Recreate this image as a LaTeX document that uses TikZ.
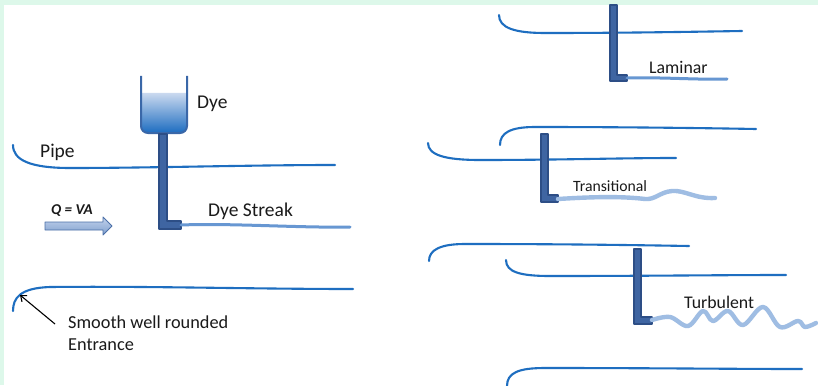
\documentclass[tikz,border=0pt]{standalone}
\usepackage{fontspec}
\setmainfont{Carlito}
\usetikzlibrary{arrows.meta}
\definecolor{mint}{HTML}{DDF8EA}
\definecolor{pipeblue}{HTML}{1E6EC0}
\definecolor{tubefill}{HTML}{3F65A2}
\definecolor{tubeedge}{HTML}{2D4E86}
\definecolor{streak}{HTML}{6797D2}
\definecolor{streaklight}{HTML}{9FBDE3}
\definecolor{tankedge}{HTML}{3A67A8}
\definecolor{liquidtop}{HTML}{CAD9EF}
\definecolor{liquidbot}{HTML}{1C6CC0}
\definecolor{flowtop}{HTML}{C3D3EC}
\definecolor{flowbot}{HTML}{7E9ECD}
\definecolor{flowedge}{HTML}{4C70A8}
\definecolor{ink}{HTML}{1A1A1A}
\begin{document}
\begin{tikzpicture}[x=1pt,y=-1pt,
  pipewall/.style={draw=pipeblue,line width=2.1pt,line cap=round},
  tube/.style={fill=tubefill,draw=tubeedge,line width=1.2pt,line join=round},
  dyeline/.style={draw=streak,line width=3pt,line cap=round},
  dyewave/.style={draw=streaklight,line width=4.4pt,line cap=round,line join=round},
  lbl/.style={inner sep=0pt,text=ink,anchor=base west},
  big/.style={font=\fontsize{19.5}{22}\selectfont},
  mid/.style={font=\fontsize{17.8}{20}\selectfont},
  small/.style={font=\fontsize{15.7}{18}\selectfont}
]
% page background with the mint frame on the top and left edges
\fill[mint] (0,0) rectangle (818,385);
\fill[white] (4,5) rectangle (818,385);
\useasboundingbox (0,0) rectangle (818,385);

% ---------------- left: the dye experiment ----------------
% pipe with a sharp entrance
\draw[pipewall] (13,145) .. controls (13,160) and (30,168) .. (70,168)
  .. controls (150,168) and (250,165) .. (335,165);
% pipe with a smooth, well rounded entrance
\draw[pipewall] (13,311) .. controls (13,298) and (20,288) .. (50,287)
  .. controls (150,286) and (250,289) .. (353,289);

% dye reservoir
\shade[top color=liquidtop,bottom color=liquidbot,rounded corners=7pt]
  (141,93) -- (141,133) -- (187,133) -- (187,93);
\draw[tankedge,line width=2pt,rounded corners=7pt]
  (141,76) -- (141,133) -- (187,133) -- (187,76);
% injection tube
\draw[tube] (159,134) -- (167,134) -- (167,221) -- (181,221) -- (181,229) -- (159,229) -- cycle;
\draw[dyeline] (181,225) .. controls (230,223) and (300,228) .. (350,227);

% flow arrow
\shade[top color=flowtop,bottom color=flowbot,draw=flowedge,line width=0.9pt,line join=round]
  (45,222) -- (103,222) -- (103,217) -- (112,226) -- (103,235) -- (103,230) -- (45,230) -- cycle;

\node[lbl,big] (dye) at (197,109) {Dye};
\node[lbl,big] (pipe) at (40,157) {Pipe};
\node[lbl,big] (streaklbl) at (208,216) {Dye Streak};
\node[lbl,font=\fontsize{15}{17}\selectfont\bfseries\itshape] (qva) at (51,214) {Q = VA};
\node[lbl,font=\fontsize{18.3}{20}\selectfont] (smooth) at (68,328) {Smooth well rounded};
\node[lbl,font=\fontsize{18.3}{20}\selectfont] (entrance) at (68,350) {Entrance};
\coordinate (tail) at (55,324);
\coordinate (lip) at (20,295);
\draw[black,line width=1.1pt,-{Straight Barb[length=5pt,width=8pt]}] (tail) -- (lip);

% ---------------- right: laminar ----------------
\draw[pipewall] (499,15) .. controls (499,28) and (515,33) .. (545,33)
  .. controls (620,33) and (680,32) .. (742,31);
\draw[tube] (610,5) -- (617,5) -- (617,75) -- (627,75) -- (627,81) -- (610,81) -- cycle;
\draw[dyeline] (627,78) .. controls (660,77) and (700,80) .. (727,79);
\node[lbl,mid] (laminar) at (649,74) {Laminar};

% ---------------- right: transitional ----------------
\draw[pipewall] (500,145) .. controls (500,133) and (510,127) .. (535,127)
  .. controls (620,127) and (700,128) .. (756,129);
\draw[pipewall] (428,143) .. controls (428,155) and (445,160) .. (480,160)
  .. controls (560,160) and (620,158) .. (676,158);
\draw[tube] (541,134) -- (548,134) -- (548,195) -- (558,195) -- (558,202) -- (541,202) -- cycle;
\draw[dyewave] (558,199) .. controls (590,197) and (620,196) .. (645,199)
  .. controls (655,200) and (660,192) .. (672,191)
  .. controls (685,190) and (695,199) .. (715,198);
\node[lbl,small] (transitional) at (573,191) {Transitional};

% ---------------- right: turbulent ----------------
\draw[pipewall] (429,261) .. controls (429,250) and (440,244) .. (465,244)
  .. controls (560,244) and (630,245) .. (689,246);
\draw[pipewall] (506,260) .. controls (506,272) and (520,276) .. (550,276)
  .. controls (650,276) and (720,275) .. (786,275);
\draw[tube] (634,249) -- (641,249) -- (641,317) -- (652,317) -- (652,324) -- (634,324) -- cycle;
\draw[dyewave] plot[smooth,tension=0.6] coordinates {(652,320) (670,317) (688,326) (703,311)
  (713,321) (728,311) (743,325) (763,307) (780,327) (798,321) (805,327) (816,323)};
\node[lbl,mid] (turbulent) at (684,308) {Turbulent};

% next pipe entering from below
\draw[pipewall] (507,386) .. controls (507,373) and (518,368) .. (545,368)
  .. controls (650,368) and (730,369) .. (802,369);
\end{tikzpicture}
\end{document}
